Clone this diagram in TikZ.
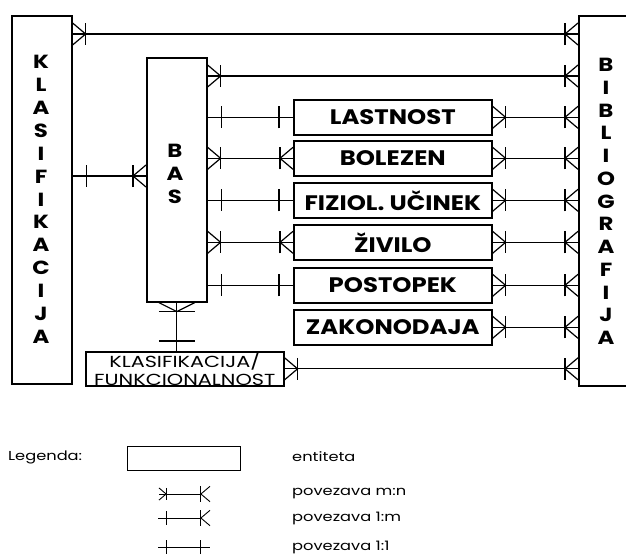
\documentclass[tikz,border=0pt]{standalone}
\usepackage{fontspec}
\newfontfamily\lblfont{Poppins}[FakeStretch=1.16]
\newfontfamily\vlfont{Poppins}[FakeStretch=1.2]
\newfontfamily\kffont{Poppins}[FakeStretch=1.3]
\newfontfamily\lgfont{Poppins}[FakeStretch=1.25]
\begin{document}
\begin{tikzpicture}[x=1pt,y=-1pt,
  box/.style={draw, line width=1.6pt, inner sep=0pt, anchor=north west},
  ent/.style={box, minimum width=198pt, minimum height=35pt, font=\lblfont\bfseries\fontsize{21}{24}\selectfont},
  conn/.style={line width=1.2pt},
  lconn/.style={line width=0.9pt},
  vl/.style={font=\vlfont\bfseries\fontsize{19}{21}\selectfont, inner sep=0pt},
  lg/.style={font=\lgfont\fontsize{13}{15}\selectfont, inner sep=0pt, anchor=west},
  pics/crow/.style={code={\draw[conn] (0,-11) -- (13,0) -- (0,11); \draw[conn] (13,-11) -- (13,11);}},
  pics/single/.style={code={\draw[conn] (14,-11) -- (14,11);}},
  pics/lcrow/.style={code={\draw[lconn] (0,-11) -- (13,0) -- (0,11); \draw[lconn] (13,-11) -- (13,11);}},
  pics/lsingle/.style={code={\draw[lconn] (14,-11) -- (14,11);}},
]
\useasboundingbox (0,0) rectangle (626,554);
% main boxes
\node[box, minimum width=60pt, minimum height=368pt] (kl) at (11,15) {};
\node[box, minimum width=60pt, minimum height=244pt] (bas) at (146,57) {};
\node[box, minimum width=50pt, minimum height=370pt] (bib) at (578,15) {};
\foreach \l [count=\i] in {K,L,A,S,I,F,I,K,A,C,I,J,A}
  \node[vl] (klt\i) at (41,{62+(\i-1)*22.9}) {\l};
\foreach \l [count=\i] in {B,A,S}
  \node[vl] (bast\i) at (175,{151+(\i-1)*23}) {\l};
\foreach \l [count=\i] in {B,I,B,L,I,O,G,R,A,F,I,J,A}
  \node[vl] (bibt\i) at (606,{65+(\i-1)*22.75}) {\l};
% entities
\node[ent] (last) at (293,99) {LASTNOST};
\node[ent] (bol) at (293,140) {BOLEZEN};
\node[ent] (fiz) at (293,182) {FIZIOL. UČINEK};
\node[ent] (ziv) at (293,224) {ŽIVILO};
\node[ent] (post) at (293,267) {POSTOPEK};
\node[ent] (zak) at (293,309) {ZAKONODAJA};
\node[box, minimum width=198pt, minimum height=34pt, align=center,
  font=\kffont\fontsize{16}{17.5}\selectfont] (klf) at (85,351) {KLASIFIKACIJA/\\FUNKCIONALNOST};
% KL - BIB
\path (kl.north east) ++(0,19) coordinate (k1);
\draw[conn] (k1) -- (k1 -| bib.west);
\pic at (k1) {crow};
\pic[rotate=180] at (k1 -| bib.west) {crow};
% BAS - BIB
\path (bas.north east) ++(0,19) coordinate (b1);
\draw[conn] (b1) -- (b1 -| bib.west);
\pic at (b1) {crow};
\pic[rotate=180] at (b1 -| bib.west) {crow};
% KL - BAS
\path (kl.north east) ++(0,161) coordinate (k2);
\draw[conn] (k2) -- (k2 -| bas.west);
\pic at (k2) {single};
\pic[rotate=180] at (k2 -| bas.west) {crow};
% BAS - entities
\foreach \e/\t in {last/single, bol/crow, fiz/single, ziv/crow, post/single}{
  \draw[conn] (bas.east |- \e.west) -- (\e.west);
  \pic at (bas.east |- \e.west) {\t};
  \pic[rotate=180] at (\e.west) {\t};
}
% entities - BIB
\foreach \e in {last, bol, fiz, ziv, post, zak, klf}{
  \draw[conn] (\e.east) -- (\e.east -| bib.west);
  \pic at (\e.east) {crow};
  \pic[rotate=180] at (\e.east -| bib.west) {crow};
}
% BAS - KLF
\draw[conn] (bas.south) -- (bas.south |- klf.north);
\draw[conn] (bas.south) ++(-18,0) -- ++(18,9) -- ++(18,-9);
\draw[conn] (bas.south) ++(-18,9) -- ++(36,0);
\draw[conn] (bas.south |- klf.north) ++(-18,-10) -- ++(36,0);
% legend
\node[lg] (leg) at (8,457) {Legenda:};
\node[draw, line width=0.9pt, minimum width=113pt, minimum height=24pt, inner sep=0pt, anchor=north west] (legbox) at (127,446) {};
\node[lg] (legent) at (292,457) {entiteta};
\coordinate (m1) at (159,494); \coordinate (m2) at (210,494);
\coordinate (n1) at (158,518); \coordinate (n2) at (210,518);
\coordinate (o1) at (158,547); \coordinate (o2) at (210,547);
\draw[lconn] (m1) -- ++(42,0);
\pic[scale=0.55] at (m1) {lcrow};
\pic[rotate=180, scale=0.7] at (m2) {lcrow};
\draw[lconn] (n1) -- ++(43,0);
\pic[scale=0.6] at (n1) {lsingle};
\pic[rotate=180, scale=0.7] at (n2) {lcrow};
\draw[lconn] (o1) -- (o2);
\pic[scale=0.6] at (o1) {lsingle};
\pic[rotate=180, scale=0.65] at (o2) {lsingle};
\node[lg] (lmn) at (292,494) {povezava m:n};
\node[lg] (l1m) at (292,518) {povezava 1:m};
\node[lg] (l11) at (292,547) {povezava 1:1};
\end{tikzpicture}
\end{document}
